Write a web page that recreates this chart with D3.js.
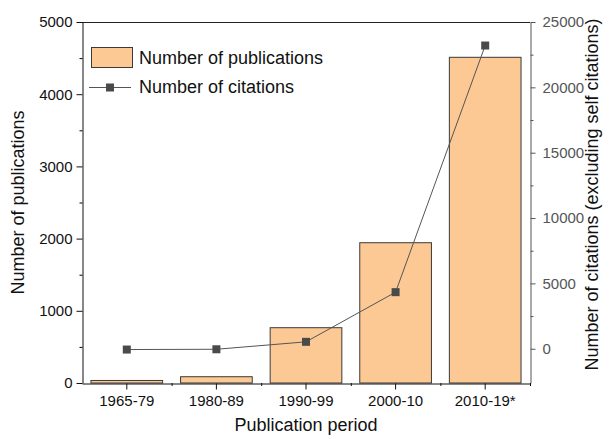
<!DOCTYPE html>
<html>
<head>
<meta charset="utf-8">
<script src="https://cdn.jsdelivr.net/npm/d3@7"></script>
<style>
  body { margin: 0; background: #fff; }
  svg { font-family: "Liberation Sans", Arial, sans-serif; }
</style>
</head>
<body>
<script>
'use strict';

// data
const periods = ["1965-79", "1980-89", "1990-99", "2000-10", "2010-19*"];
const publications = [35, 87, 766, 1943, 4511];
const citations = [-60, -40, 530, 4330, 23200];
const leftTicks = [0, 1000, 2000, 3000, 4000, 5000];
const rightTicks = [0, 5000, 10000, 15000, 20000, 25000];

const width = 609, height = 439;
const margin = { top: 22, right: 79, bottom: 56, left: 82 };
const x0 = margin.left, x1 = width - margin.right;
const y0 = height - margin.bottom, y1 = margin.top;

const svg = d3.select("body")
  .append("svg")
    .attr("width", width)
    .attr("height", height);

const x = d3.scaleBand()
  .domain(periods)
  .range([x0, x1])
  .paddingInner(0.2)
  .paddingOuter(0.1);

const yLeft = d3.scaleLinear().domain([0, 5000]).range([y0, y1]);
// right axis starts a bit below zero, as in the original plot
const yRight = d3.scaleLinear().domain([-2620, 25000]).range([y0, y1]);

// bars
svg.selectAll("rect.bar")
  .data(periods)
  .enter()
  .append("rect")
    .attr("class", "bar")
    .attr("x", (d) => x(d))
    .attr("y", (d, i) => yLeft(publications[i]))
    .attr("width", x.bandwidth())
    .attr("height", (d, i) => yLeft(0) - yLeft(publications[i]))
    .attr("fill", "#fcc894")
    .attr("stroke", "#3a3a3a")
    .attr("stroke-width", 1);

// frame top line
svg.append("line")
  .attr("x1", x0).attr("x2", x1)
  .attr("y1", y1 + 0.5).attr("y2", y1 + 0.5)
  .attr("stroke", "#222");

// left axis, with minor ticks
const minorLeft = d3.range(500, 5000, 1000);
svg.append("g")
  .attr("transform", `translate(${x0 + 0.5},0)`)
  .call(d3.axisLeft(yLeft).tickValues(minorLeft).tickSize(3).tickFormat(""))
  .call((g) => g.select(".domain").remove());

const gLeft = svg.append("g")
  .attr("transform", `translate(${x0 + 0.5},0)`)
  .call(d3.axisLeft(yLeft).tickValues(leftTicks).tickSize(6).tickSizeOuter(0).tickPadding(4).tickFormat(d3.format("d")));
gLeft.selectAll("text").attr("font-size", 15).attr("fill", "#111");
gLeft.selectAll("line, path").attr("stroke", "#111");

// right axis (grey), with minor ticks
const minorRight = d3.range(2500, 25000, 5000);
svg.append("g")
  .attr("transform", `translate(${x1 + 0.5},0)`)
  .call(d3.axisRight(yRight).tickValues(minorRight).tickSize(3).tickFormat(""))
  .call((g) => g.select(".domain").remove())
  .selectAll("line").attr("stroke", "#555");

const gRight = svg.append("g")
  .attr("transform", `translate(${x1 + 0.5},0)`)
  .call(d3.axisRight(yRight).tickValues(rightTicks).tickSize(5).tickSizeOuter(0).tickPadding(7).tickFormat(d3.format("d")));
gRight.selectAll("text").attr("font-size", 15).attr("fill", "#555");
gRight.selectAll("line, path").attr("stroke", "#555");

// bottom axis: major ticks at band centres, minor ticks at band edges
const edges = d3.range(1, periods.length + 1).map((i) => x0 + i * x.step());
svg.selectAll("line.minor-x")
  .data(edges)
  .enter()
  .append("line")
    .attr("class", "minor-x")
    .attr("x1", (d) => d + 0.5)
    .attr("x2", (d) => d + 0.5)
    .attr("y1", y0)
    .attr("y2", y0 + 3)
    .attr("stroke", "#111");

const gBottom = svg.append("g")
  .attr("transform", `translate(0,${y0 + 0.5})`)
  .call(d3.axisBottom(x).tickSize(6).tickSizeOuter(0).tickPadding(6));
gBottom.selectAll("text").attr("font-size", 15).attr("fill", "#111");
gBottom.selectAll("line, path").attr("stroke", "#111");

// citations line + square markers
const line = d3.line()
  .x((d, i) => x(periods[i]) + x.bandwidth() / 2)
  .y((d) => yRight(d));

svg.append("path")
  .datum(citations)
  .attr("d", line)
  .attr("fill", "none")
  .attr("stroke", "#555")
  .attr("stroke-width", 1);

const markerSize = 8;
svg.selectAll("rect.marker")
  .data(citations)
  .enter()
  .append("rect")
    .attr("class", "marker")
    .attr("x", (d, i) => x(periods[i]) + x.bandwidth() / 2 - markerSize / 2)
    .attr("y", (d) => yRight(d) - markerSize / 2)
    .attr("width", markerSize)
    .attr("height", markerSize)
    .attr("fill", "#4a4a4a");

// axis titles
svg.append("text")
  .attr("transform", `translate(24,${(y0 + y1) / 2}) rotate(-90)`)
  .attr("text-anchor", "middle")
  .attr("font-size", 18)
  .attr("fill", "#111")
  .text("Number of publications");

svg.append("text")
  .attr("transform", `translate(598,${(y0 + y1) / 2 - 8}) rotate(-90)`)
  .attr("text-anchor", "middle")
  .attr("font-size", 18)
  .attr("fill", "#111")
  .text("Number of citations (excluding self citations)");

svg.append("text")
  .attr("x", (x0 + x1) / 2)
  .attr("y", 431)
  .attr("text-anchor", "middle")
  .attr("font-size", 18)
  .attr("fill", "#111")
  .text("Publication period");

// legend
const legend = svg.append("g");
legend.append("rect")
  .attr("x", 91.5).attr("y", 47.5)
  .attr("width", 41).attr("height", 20)
  .attr("fill", "#fcc894")
  .attr("stroke", "#3a3a3a");
legend.append("text")
  .attr("x", 139).attr("y", 64)
  .attr("font-size", 18)
  .attr("fill", "#111")
  .text("Number of publications");

legend.append("line")
  .attr("x1", 89).attr("x2", 131)
  .attr("y1", 87.5).attr("y2", 87.5)
  .attr("stroke", "#555");
legend.append("rect")
  .attr("x", 110 - markerSize / 2).attr("y", 87.5 - markerSize / 2)
  .attr("width", markerSize).attr("height", markerSize)
  .attr("fill", "#4a4a4a");
legend.append("text")
  .attr("x", 139).attr("y", 93)
  .attr("font-size", 18)
  .attr("fill", "#111")
  .text("Number of citations");
</script>
</body>
</html>
